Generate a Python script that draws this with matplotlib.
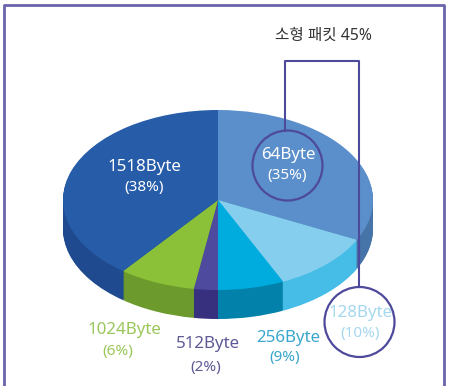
import matplotlib
matplotlib.use('Agg')
import matplotlib.pyplot as plt
from matplotlib.patches import Circle

plt.rcParams['font.family'] = ['Noto Sans', 'Noto Sans CJK KR', 'DejaVu Sans']

# slices, clockwise from 12 o'clock
names = ['64Byte', '128Byte', '256Byte', '512Byte', '1024Byte', '1518Byte']
labels_pct = [35, 10, 9, 2, 6, 38]
# the drawing does not follow the printed percentages exactly, these are read off the picture
drawn_share = [32.3, 10.8, 6.9, 2.5, 8.0, 39.5]
top_colors = ['#5b8fcb', '#85ceee', '#00abdd', '#4e4a9e', '#8bc139', '#265ca8']
side_colors = ['#4673a8', '#45bde6', '#0282aa', '#37307f', '#6c9a2c', '#1f4a90']
text_colors = ['white', '#a5d8ef', '#3ba6cc', '#5d5a95', '#9bc75a', 'white']
title_text = '소형 패킷 45%'

W, H = 450, 386
fig = plt.figure(figsize=(W / 100, H / 100), dpi=100)

# 납작한 타원 파이: 축 자체를 찌그러뜨림
rx, ry, depth = 155, 90, 29
cx, cy = 218, 200
ax_pie = fig.add_axes([(cx - rx) / W, 1 - (cy + ry + depth) / H, 2 * rx / W, (2 * ry + depth) / H])
for off in range(depth, 0, -1):
    ax_pie.pie(drawn_share, colors=side_colors, startangle=90, counterclock=False,
               center=(0, -off / ry), radius=1,
               wedgeprops={'linewidth': 0.4, 'edgecolor': 'none'})
wedges, _ = ax_pie.pie(drawn_share, colors=top_colors, startangle=90, counterclock=False,
                       center=(0, 0), radius=1)
ax_pie.set_aspect('auto')
ax_pie.set_xlim(-1, 1)
ax_pie.set_ylim(-1 - depth / ry, 1)
ax_pie.axis('off')

# overlay in pixel coordinates
ax = fig.add_axes([0, 0, 1, 1])
ax.set_xlim(0, W)
ax.set_ylim(H, 0)
ax.axis('off')
ax.patch.set_alpha(0)

frame_c = '#6a64ab'
ax.plot([4, 4, 444, 444], [H, 5, 5, H], color=frame_c, lw=2)

line_c = '#4e4a9b'
ax.plot([285, 285, 359, 359], [131, 61, 61, 287], color=line_c, lw=1.5)
ax.add_patch(Circle((287.5, 165.5), 35, fill=False, edgecolor=line_c, lw=1.6))
ax.add_patch(Circle((359.5, 322), 35, fill=False, edgecolor=line_c, lw=1.6))

ax.text(323, 36, title_text, fontsize=11.3, color='#333333', ha='center', va='center')

name_pos = [(288, 155), (361, 313), (288, 338), (208, 344), (124, 330), (144, 167)]
pct_pos = [(287, 176), (360, 334), (285, 358), (206, 367), (118, 351), (144, 187)]
for i in range(len(names)):
    ax.text(name_pos[i][0], name_pos[i][1], names[i], fontsize=12.2, color=text_colors[i],
            ha='center', va='center')
    ax.text(pct_pos[i][0], pct_pos[i][1], f'({labels_pct[i]}%)', fontsize=11, color=text_colors[i],
            ha='center', va='center')

fig.savefig('out.png', dpi=100)
